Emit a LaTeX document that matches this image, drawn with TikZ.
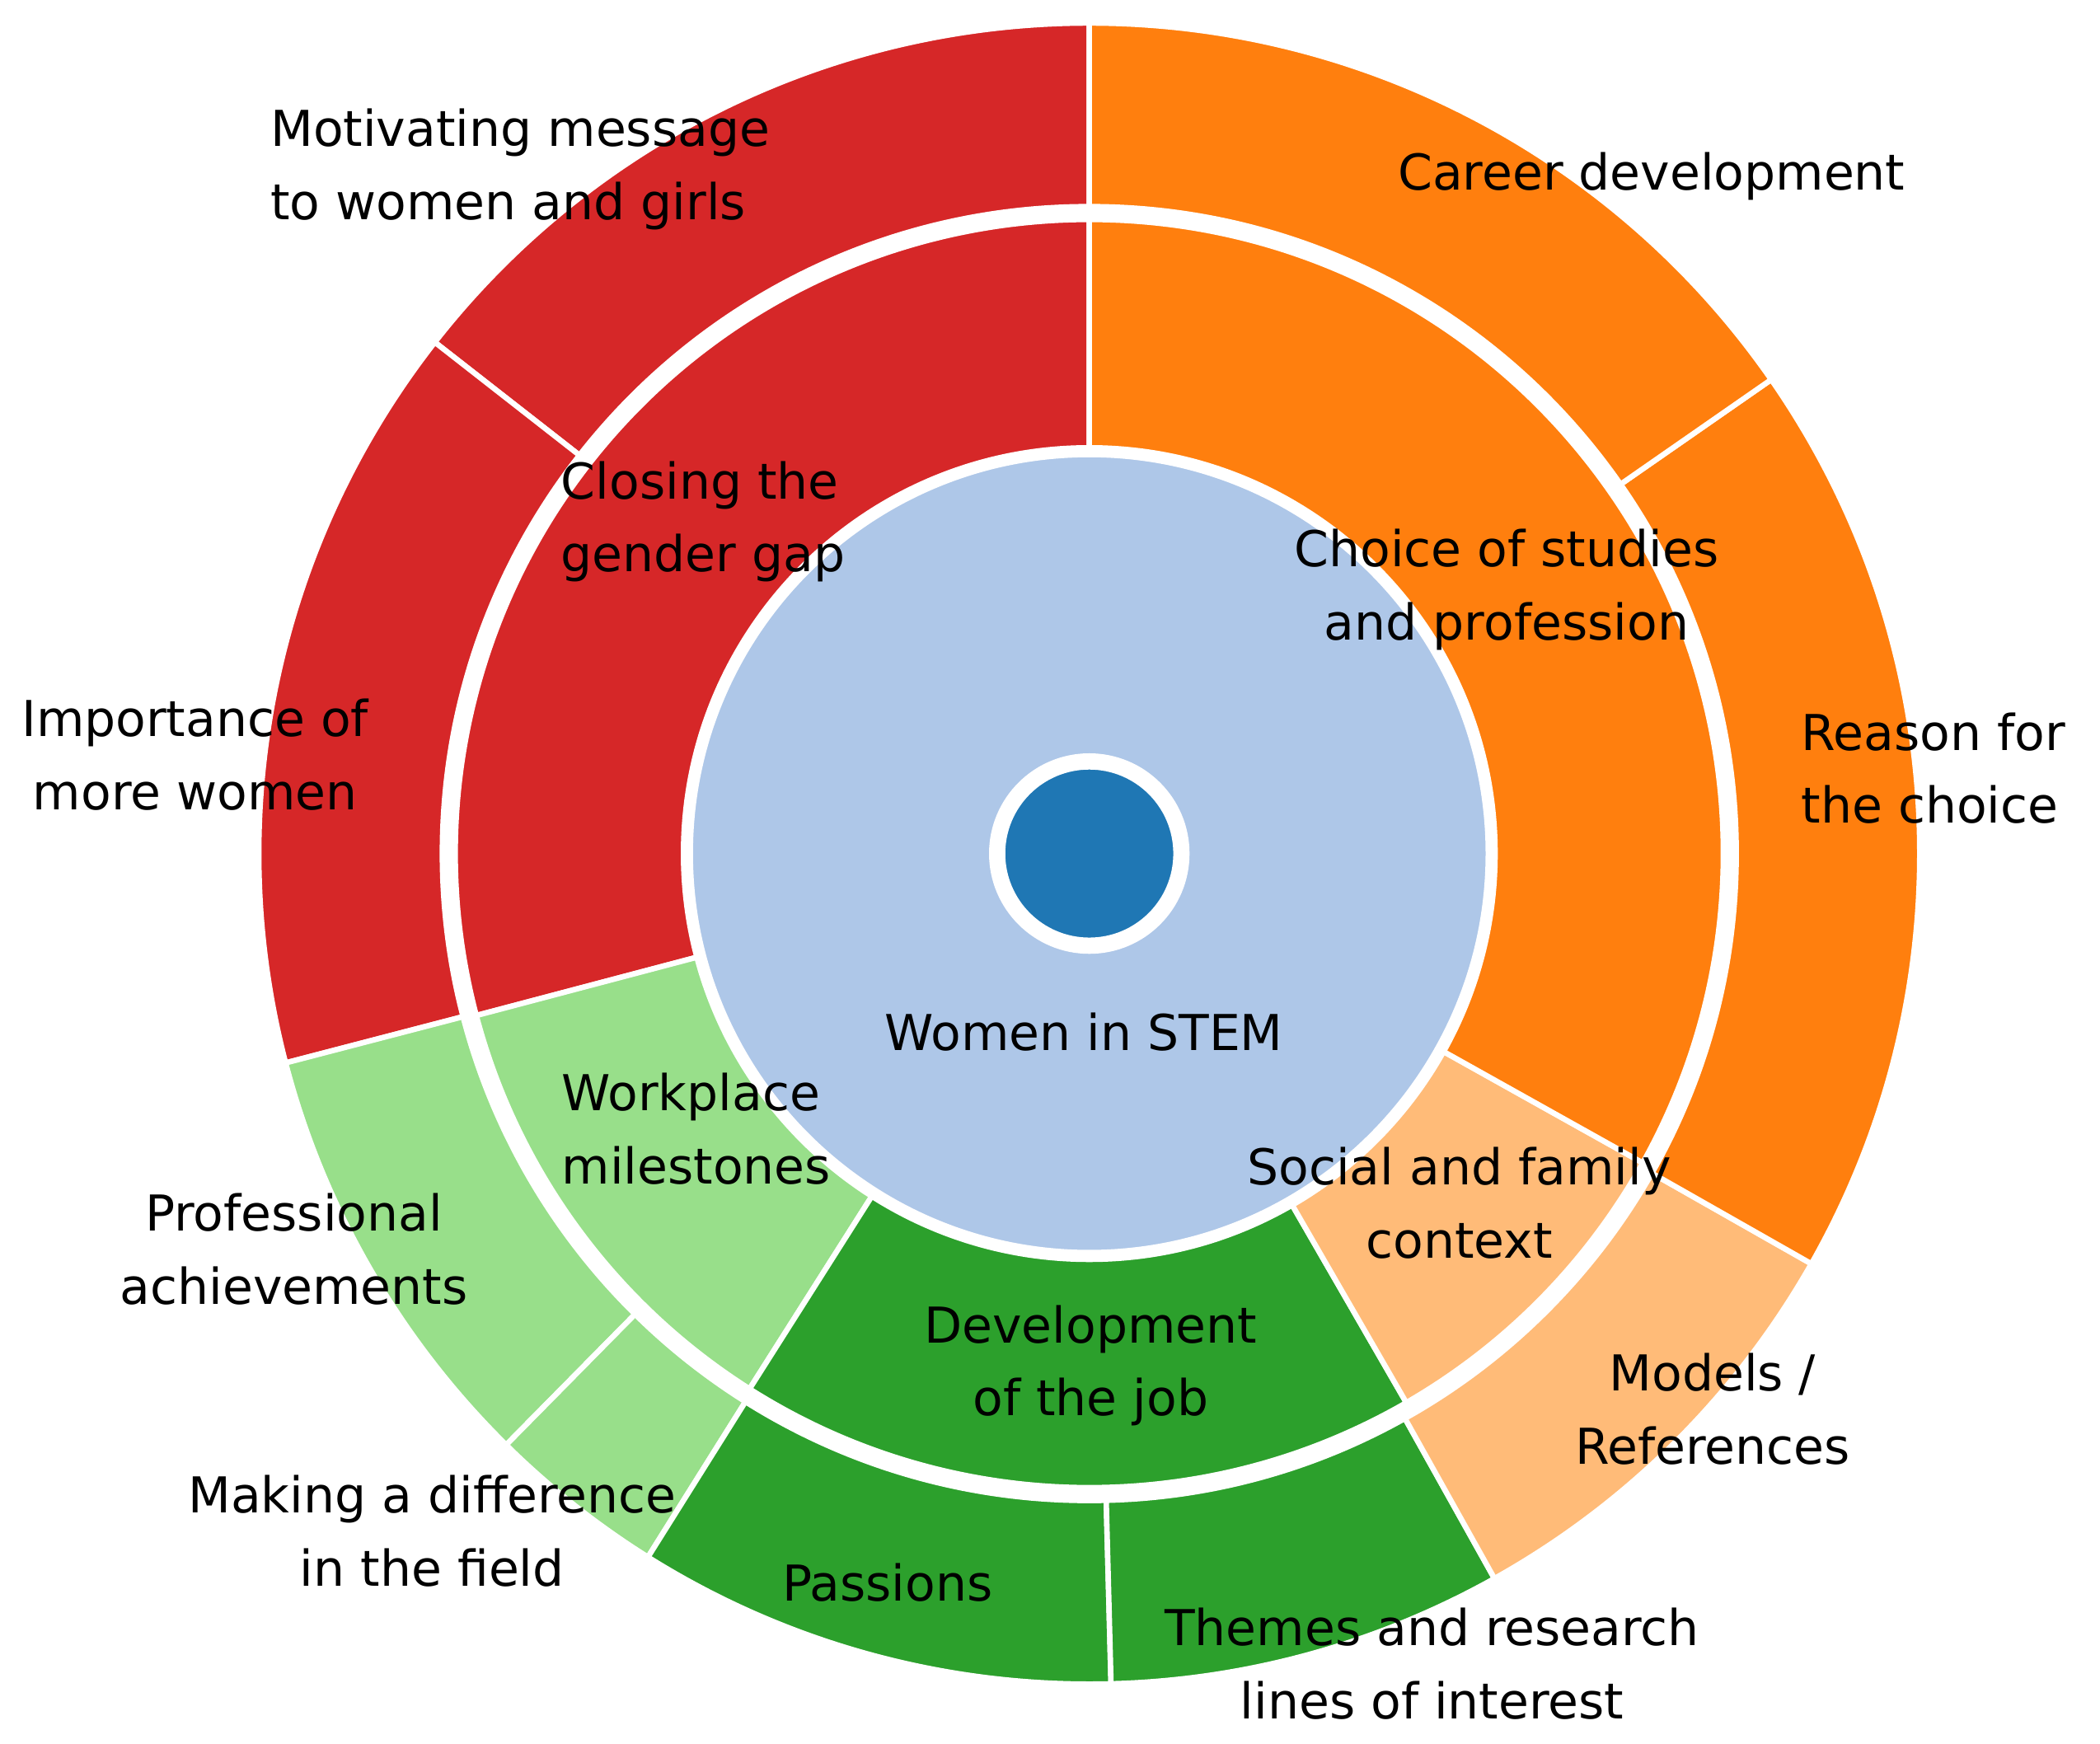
\documentclass[tikz,border=0pt]{standalone}
\usepackage{fontspec}
\setmainfont{DejaVu Sans}
\definecolor{cRed}{HTML}{D62728}
\definecolor{cOrange}{HTML}{FF7F0E}
\definecolor{cLOrange}{HTML}{FFBB78}
\definecolor{cGreen}{HTML}{2CA02C}
\definecolor{cLGreen}{HTML}{98DF8A}
\definecolor{cLBlue}{HTML}{AEC7E8}
\definecolor{cBlue}{HTML}{1F77B4}
\newcommand\ringpart[5]{%
  \filldraw[fill=#1, draw=white, line width=4pt]
    (#2:#4) arc[start angle=#2, end angle=#3, radius=#4] --
    (#3:#5) arc[start angle=#3, end angle=#2, radius=#5] -- cycle;}
\tikzset{
  lbl/.style={font=\fontsize{36.5}{54}\selectfont, align=center, inner sep=0pt},
  lbll/.style={lbl, align=left}
}
\begin{document}
\begin{tikzpicture}[x=1pt,y=1pt]
  \useasboundingbox (-804,-657) rectangle (746,630);

  %% outer ring
  \ringpart{cRed}{90}{142}{0}{613}
  \ringpart{cRed}{142}{194.6}{0}{613}
  \ringpart{cLGreen}{194.6}{225.4}{0}{613}
  \ringpart{cLGreen}{225.4}{237.9}{0}{613}
  \ringpart{cGreen}{237.9}{271.5}{0}{613}
  \ringpart{cGreen}{271.5}{299.2}{0}{613}
  \ringpart{cLOrange}{299.2}{330.4}{0}{613}
  \ringpart{cOrange}{330.4}{394.8}{0}{613}
  \ringpart{cOrange}{34.8}{90}{0}{613}
  \draw[white, line width=11pt] (0,0) circle[radius=474];

  %% middle ring
  \ringpart{cRed}{90}{194.8}{0}{468}
  \ringpart{cLGreen}{194.8}{237.6}{0}{468}
  \ringpart{cGreen}{237.6}{300}{0}{468}
  \ringpart{cLOrange}{300}{330.8}{0}{468}
  \ringpart{cOrange}{330.8}{450}{0}{468}

  %% centre
  \filldraw[fill=cLBlue, draw=white, line width=9pt] (0,0) circle[radius=297];
  \filldraw[fill=cBlue, draw=white, line width=12pt] (0,0) circle[radius=68];

  \node[lbll] (motiv) at (-420,505) {Motivating message\\to women and girls};
  \node[lbl]  (career) at (415,500) {Career development};
  \node[lbll] (gap) at (-285,245) {Closing the\\gender gap};
  \node[lbl]  (choice) at (308,195) {Choice of studies\\and profession};
  \node[lbl]  (import) at (-660,73) {Importance of\\more women};
  \node[lbll] (reason) at (623,63) {Reason for\\the choice};
  \node[lbl]  (stem) at (-4,-132) {Women in STEM};
  \node[lbll] (work) at (-290,-203) {Workplace\\milestones};
  \node[lbl]  (social) at (273,-258) {Social and family\\context};
  \node[lbl]  (prof) at (-587,-292) {Professional\\achievements};
  \node[lbl]  (devel) at (1,-378) {Development\\of the job};
  \node[lbl]  (models) at (460,-410) {Models /\\References};
  \node[lbl]  (diff) at (-485,-500) {Making a difference\\in the field};
  \node[lbl]  (pass) at (-149,-538) {Passions};
  \node[lbl]  (themes) at (253,-598) {Themes and research\\lines of interest};
\end{tikzpicture}
\end{document}
